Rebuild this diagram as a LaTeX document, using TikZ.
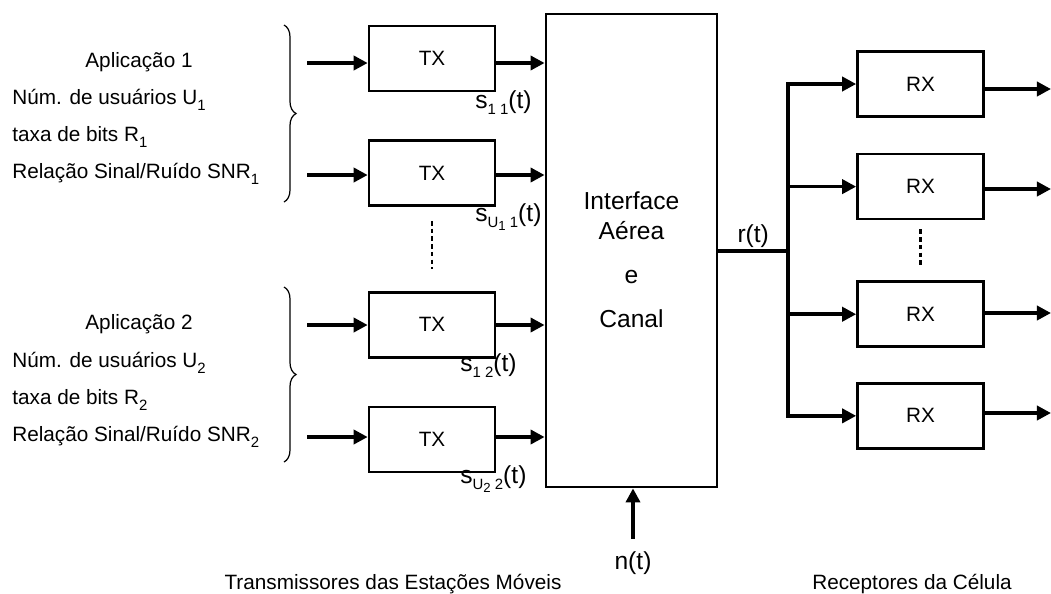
\documentclass[tikz,border=0pt]{standalone}
\usepackage{fontspec}
\setmainfont{Liberation Sans}
\setsansfont{Liberation Sans}
\usetikzlibrary{arrows.meta,positioning,calc,decorations.pathreplacing}

\newcommand{\lsub}[1]{\raisebox{-3.8pt}{\fontsize{8.5}{10}\selectfont #1}}
\newcommand{\llsub}[1]{\raisebox{-1.8pt}{\fontsize{7.5}{9}\selectfont #1}}

\begin{document}
\begin{tikzpicture}[
    x=0.02cm, y=-0.02cm,
    font=\sffamily\fontsize{11.8}{14}\selectfont,
    >={Triangle[length=8pt,width=8pt]},
    blk/.style={
        draw=black, line width=1.5pt, fill=white,
        minimum width=2.52cm, minimum height=1.3cm, inner sep=0pt},
    chan/.style={
        draw=black, line width=1.6pt,
        minimum width=3.42cm, minimum height=9.46cm, inner sep=0pt},
    big/.style={font=\sffamily\fontsize{14}{17}\selectfont},
    sig/.style={big, inner sep=0pt, anchor=base west},
    txt/.style={inner sep=0pt, anchor=base west},
    arr/.style={->, line width=2pt},
    wire/.style={line width=2pt, line cap=rect},
    vdots/.style={line width=1.5pt, dash pattern=on 2.6pt off 1.8pt},
    brc/.style={decorate, decoration={brace, amplitude=0.24cm}, line width=0.7pt}
]
\useasboundingbox (0,0) rectangle (1051,593);

%% ══════════════════════════════ APPLICATIONS ══════════════════════════════
\node[inner sep=0pt, anchor=base] (app_1) at (139,67) {Aplicação 1};
\node[txt] (usr_1) at (12,104) {Núm. de usuários U\lsub{1}};
\node[txt] (bit_1) at (12,141) {taxa de bits R\lsub{1}};
\node[txt] (snr_1) at (12,178) {Relação Sinal/Ruído SNR\lsub{1}};

\node[inner sep=0pt, anchor=base] (app_2) at (139,329) {Aplicação 2};
\node[txt] (usr_2) at (12,367) {Núm. de usuários U\lsub{2}};
\node[txt] (bit_2) at (12,404) {taxa de bits R\lsub{2}};
\node[txt] (snr_2) at (12,441) {Relação Sinal/Ruído SNR\lsub{2}};

\draw[brc] (284,25) -- (284,202);
\draw[brc] (284,287) -- (284,462);

%% ══════════════════════════════ TRANSMITTERS ══════════════════════════════
\node[blk] (tx_1) at (432,58.5) {TX};
\node[blk, below=0.94cm of tx_1] (tx_2) {TX};
\node[blk, below=1.68cm of tx_2] (tx_3) {TX};
\node[blk, below=0.94cm of tx_3] (tx_4) {TX};

\draw[vdots, shorten <=0.28cm, shorten >=0.44cm] (tx_2.south) -- (tx_3.north);

%% ══════════════════════════════ CHANNEL ══════════════════════════════
\node[chan] (canal) at (631.5,250.5) {};
\node[big, align=center] (canal_txt) at (631.5,260)
    {Interface\\Aérea\\[8pt]e\\[8pt]Canal};

%% TX inputs and outputs into the channel
\foreach \i/\yy in {1/63, 2/175, 3/325, 4/437} {
    \coordinate (in_\i) at (307,\yy);
    \draw[arr] (in_\i) -- (in_\i -| tx_\i.west);
    \draw[arr] (in_\i -| tx_\i.east) -- (in_\i -| canal.west);
}

\node[sig] (s_11) at (475,108) {s\lsub{1 1}(t)};
\node[sig] (s_u1) at (475,221) {s\lsub{U\llsub{1} 1}(t)};
\node[sig] (s_12) at (460,371) {s\lsub{1 2}(t)};
\node[sig] (s_u2) at (460,483) {s\lsub{U\llsub{2} 2}(t)};

%% Noise into the channel
\node[big, inner sep=7pt] (noise) at (633,563) {n(t)};
\draw[arr] (noise.north) -- (noise.north |- canal.south);

%% ══════════════════════════════ RECEIVERS ══════════════════════════════
\node[blk] (rx_1) at (920.5,84) {RX};
\node[blk, below=0.7cm of rx_1] (rx_2) {RX};
\node[blk, below=1.2cm of rx_2] (rx_3) {RX};
\node[blk, below=0.68cm of rx_3] (rx_4) {RX};

\draw[vdots, shorten <=0.18cm, shorten >=0.26cm] (rx_2.south) -- (rx_3.north);

\coordinate (bus) at (788,251);
\draw[wire] (canal.east |- bus) -- (bus)
    node[midway, above, inner sep=1pt, big] (r_lbl) {r(t)};
\draw[wire] (bus |- rx_1) -- (bus |- rx_4);

\foreach \i/\yy in {1/89, 2/189, 3/313, 4/413} {
    \coordinate (out_\i) at (1051,\yy);
    \draw[arr] (bus |- rx_\i) -- (rx_\i.west);
    \draw[arr] (out_\i -| rx_\i.east) -- (out_\i);
}

%% ══════════════════════════════ CAPTIONS ══════════════════════════════
\node[inner sep=0pt, anchor=base] (tx_caption) at (393,589)
    {Transmissores das Estações Móveis};
\node[inner sep=0pt, anchor=base] (rx_caption) at (912,589)
    {Receptores da Célula};

\end{tikzpicture}
\end{document}
